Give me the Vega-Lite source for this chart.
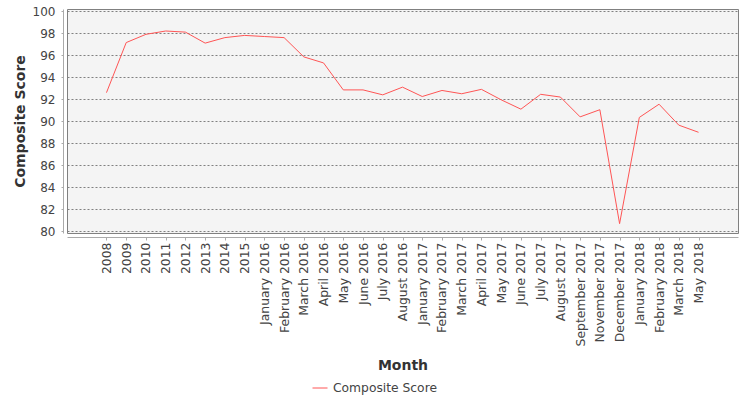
{
  "$schema": "https://vega.github.io/schema/vega-lite/v6.json",
  "width": 671,
  "height": 224,
  "autosize": {"type": "none"},
  "padding": {"left": 67, "top": 9, "right": 12, "bottom": 167},
  "background": "white",
  "config": {
    "font": "DejaVu Sans",
    "view": {"fill": "#f4f4f4", "stroke": "#808080", "strokeWidth": 1}
  },
  "data": {
    "values": [
      {"Month": "2008", "Score": 92.6},
      {"Month": "2009", "Score": 97.15},
      {"Month": "2010", "Score": 97.9},
      {"Month": "2011", "Score": 98.2},
      {"Month": "2012", "Score": 98.1},
      {"Month": "2013", "Score": 97.1},
      {"Month": "2014", "Score": 97.6},
      {"Month": "2015", "Score": 97.8},
      {"Month": "January 2016", "Score": 97.7},
      {"Month": "February 2016", "Score": 97.6},
      {"Month": "March 2016", "Score": 95.85},
      {"Month": "April 2016", "Score": 95.3},
      {"Month": "May 2016", "Score": 92.85},
      {"Month": "June 2016", "Score": 92.85},
      {"Month": "July 2016", "Score": 92.4},
      {"Month": "August 2016", "Score": 93.1},
      {"Month": "January 2017", "Score": 92.25},
      {"Month": "February 2017", "Score": 92.8},
      {"Month": "March 2017", "Score": 92.5},
      {"Month": "April 2017", "Score": 92.9},
      {"Month": "May 2017", "Score": 91.95},
      {"Month": "June 2017", "Score": 91.1},
      {"Month": "July 2017", "Score": 92.45},
      {"Month": "August 2017", "Score": 92.2},
      {"Month": "September 2017", "Score": 90.4},
      {"Month": "November 2017", "Score": 91.05},
      {"Month": "December 2017", "Score": 80.7},
      {"Month": "January 2018", "Score": 90.35},
      {"Month": "February 2018", "Score": 91.55},
      {"Month": "March 2018", "Score": 89.65},
      {"Month": "May 2018", "Score": 89.0}
    ]
  },
  "mark": {"type": "line", "strokeWidth": 1},
  "encoding": {
    "x": {
      "field": "Month",
      "type": "ordinal",
      "sort": null,
      "scale": {
        "type": "point",
        "padding": 1.13,
        "domain": [" ", "2008", "2009", "2010", "2011", "2012", "2013", "2014", "2015", "January 2016", "February 2016", "March 2016", "April 2016", "May 2016", "June 2016", "July 2016", "August 2016", "January 2017", "February 2017", "March 2017", "April 2017", "May 2017", "June 2017", "July 2017", "August 2017", "September 2017", "November 2017", "December 2017", "January 2018", "February 2018", "March 2018", "May 2018", "  "]
      },
      "axis": {
        "title": "Month",
        "values": ["2008", "2009", "2010", "2011", "2012", "2013", "2014", "2015", "January 2016", "February 2016", "March 2016", "April 2016", "May 2016", "June 2016", "July 2016", "August 2016", "January 2017", "February 2017", "March 2017", "April 2017", "May 2017", "June 2017", "July 2017", "August 2017", "September 2017", "November 2017", "December 2017", "January 2018", "February 2018", "March 2018", "May 2018"],
        "titleFontSize": 14,
        "titleFontWeight": "bold",
        "titleColor": "#333333",
        "titlePadding": 13,
        "labelAngle": -90,
        "labelFontSize": 12.4,
        "labelColor": "#444444",
        "labelPadding": 2,
        "offset": 4,
        "tickSize": 3,
        "tickColor": "#aaaaaa",
        "domainColor": "#aaaaaa",
        "grid": false
      }
    },
    "y": {
      "field": "Score",
      "type": "quantitative",
      "scale": {"domain": [79.85, 100.2], "nice": false, "zero": false},
      "axis": {
        "title": "Composite Score",
        "titleFontSize": 14,
        "titleFontWeight": "bold",
        "titleColor": "#333333",
        "titlePadding": 5,
        "values": [80, 82, 84, 86, 88, 90, 92, 94, 96, 98, 100],
        "labelFontSize": 12,
        "labelColor": "#444444",
        "labelPadding": 6,
        "offset": 4,
        "tickSize": 2,
        "tickColor": "#aaaaaa",
        "domainColor": "#aaaaaa",
        "grid": true,
        "gridColor": "#808080",
        "gridDash": [2, 2],
        "gridWidth": 1
      }
    },
    "color": {
      "datum": "Composite Score",
      "scale": {"range": ["#ff5555"]},
      "legend": {
        "title": null,
        "orient": "none",
        "legendX": 245,
        "legendY": 371,
        "symbolType": "stroke",
        "symbolSize": 225,
        "symbolStrokeWidth": 1,
        "labelFontSize": 12.3,
        "labelColor": "#444444",
        "labelOffset": 5
      }
    }
  }
}
